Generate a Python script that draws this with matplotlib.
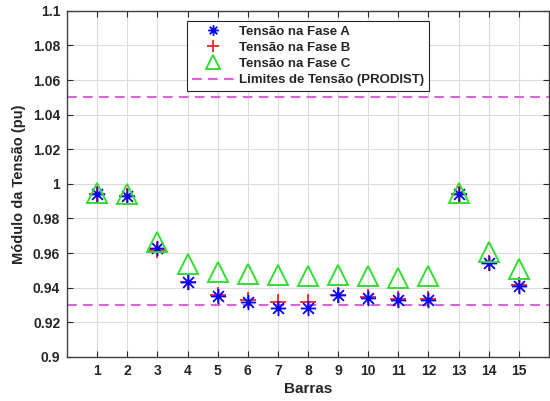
import numpy as np
import matplotlib
matplotlib.use("Agg")
import matplotlib.pyplot as plt
from matplotlib.path import Path


barras = list(range(1, 16))
fase_a = [0.994, 0.993, 0.963, 0.943, 0.935, 0.932, 0.928, 0.928, 0.936, 0.934, 0.933, 0.933, 0.994, 0.954, 0.941]
fase_b = [0.994, 0.993, 0.962, 0.943, 0.936, 0.933, 0.932, 0.932, 0.936, 0.9345, 0.9335, 0.9335, 0.994, 0.9545, 0.9415]
fase_c = [0.995, 0.994, 0.9665, 0.9535, 0.949, 0.948, 0.9475, 0.947, 0.9475, 0.9465, 0.9455, 0.9465, 0.995, 0.9605, 0.951]
limites = [1.05, 0.93]

y_ticks = [0.9, 0.92, 0.94, 0.96, 0.98, 1.0, 1.02, 1.04, 1.06, 1.08, 1.1]
y_labels = ["0.9", "0.92", "0.94", "0.96", "0.98", "1", "1.02", "1.04", "1.06", "1.08", "1.1"]

plt.rcParams["font.family"] = ["Liberation Sans", "DejaVu Sans"]
plt.rcParams["font.weight"] = "bold"
plt.rcParams["lines.scale_dashes"] = False

# asterisco estilo MATLAB (8 bracos)
ang = np.deg2rad([0, 45, 90, 135])
verts, codes = [], []
for a in ang:
	verts += [(np.cos(a), np.sin(a)), (-np.cos(a), -np.sin(a))]
	codes += [Path.MOVETO, Path.LINETO]
asterisco = Path(verts, codes)

txt = "#262626"
fig = plt.figure(figsize=(5.5, 4.01), dpi=100)
ax = fig.add_axes([0.122, 0.110, 0.876, 0.863])

ax.plot(barras, fase_a, linestyle="none", marker=asterisco, ms=11, mew=1.3,
	mec="#0000ff", mfc="none", label="Tensão na Fase A", zorder=4)
ax.plot(barras, fase_b, linestyle="none", marker="+", ms=12, mew=1.3,
	mec="#ff2020", label="Tensão na Fase B", zorder=3)
ax.plot(barras, fase_c, linestyle="none", marker="^", ms=15, mew=1.4,
	mec="#33dd33", mfc="none", label="Tensão na Fase C", zorder=5)
for i, lim in enumerate(limites):
	ax.axhline(lim, color="#e060e0", lw=1.5, dashes=(7, 4.5),
		label="Limites de Tensão (PRODIST)" if i == 0 else None, zorder=2)

ax.set_xlim(0, 16)
ax.set_ylim(0.9, 1.1)
ax.set_xticks(barras)
ax.set_yticks(y_ticks)
ax.set_yticklabels(y_labels)
ax.tick_params(direction="in", top=True, right=True, labelsize=10,
	colors=txt, length=4, width=0.8, pad=5)
for lab in ax.get_xticklabels() + ax.get_yticklabels():
	lab.set_fontweight("bold")
ax.grid(True, color="#dcdcdc", lw=0.8)
ax.set_axisbelow(True)
for s in ax.spines.values():
	s.set_color("#404040")
	s.set_linewidth(1.0)

ax.set_xlabel("Barras", fontsize=11, fontweight="bold", color=txt, labelpad=3)
ax.set_ylabel("Módulo da Tensão (pu)", fontsize=10.5, fontweight="bold", color=txt, labelpad=5)

leg = ax.legend(loc="upper left", bbox_to_anchor=(0.249, 0.971), fontsize=9.5,
	frameon=True, fancybox=False, edgecolor="#262626", framealpha=1,
	handlelength=3.2, borderpad=0.35, labelspacing=0.3, handletextpad=0.4,
	borderaxespad=0, markerscale=0.7)
leg.get_frame().set_linewidth(0.8)
leg.set_zorder(10)
for t in leg.get_texts():
	t.set_fontweight("bold")
	t.set_color(txt)

fig.savefig("out.png", dpi=100)
